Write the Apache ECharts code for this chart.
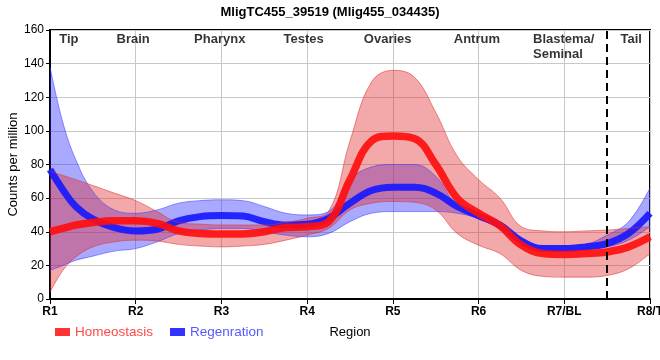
<!DOCTYPE html>
<html>
<head>
<meta charset="utf-8">
<script src="https://cdn.jsdelivr.net/npm/echarts@6/dist/echarts.min.js"></script>
<style>html,body{margin:0;padding:0;background:#fff;}#c{width:660px;height:360px;}</style>
</head>
<body>
<div id="c"></div>
<script>
var categories = ['R1','R2','R3','R4','R5','R6','R7/BL','R8/T'];
var yTicks = [0,20,40,60,80,100,120,140,160];
var xs = [1,1.15,1.3,1.5,1.75,2,2.25,2.5,2.75,3,3.25,3.5,3.75,4,4.25,4.5,4.75,5,5.25,5.5,5.75,6,6.25,6.5,6.75,7,7.25,7.5,7.75,8];
var homeMean  = [40,42,44,45.5,46.5,46.5,45,40.5,39,38.7,38.7,40,42.5,43,46,71,94,97,95.5,80,60,51,43.5,32,27,26.5,27,28,31,37];
var homeUpper = [76,73.5,71,67.5,63,58.5,52,45.5,44.5,44,44,44,45.5,48,52,94,129,136,132,111,85,71,60,43,40.5,40,40.5,41,42,43];
var homeLower = [4,17,25,31,34,35,34.5,32.5,31.5,31,31.5,32.5,35,38,42,53,57,58,57.5,53,39,32,27,17,13.5,13,13,14,18,27];
var regenMean  = [77,65,55,47.5,42.5,40.5,41.5,46.5,49,49.6,49.3,46,44,44.5,48,57,64.5,66.5,66.5,63,55,49.5,44,34.5,30,30,31,33,39,51];
var regenUpper = [138,105,83,64,53,51,53,57,58.5,59,58.5,55,51,50,52,71,78.5,80,80,73,55.5,51,45.5,36,31.5,31.5,32.5,38,46,66];
var regenLower = [17,20,23,25.5,28.5,30,34,39,41,42,42,40,38,37,39,46,51,52,52,52,51,48,42.5,33,28.5,28.5,29.5,31,35,43];
var regionNames = ['Tip','Brain','Pharynx','Testes','Ovaries','Antrum','Blastema/\nSeminal','Tail'];
var regionX = [1.22,1.97,2.98,3.96,4.94,5.98,6.635,7.78];
var regionY = 159;
var dividerX = 7.5;

var FONT = 'Liberation Sans, Arial, sans-serif';
// data rows are [y, x] so that stacking applies to the y dimension
function rows(a){ return xs.map(function(x,i){ return [a[i], x]; }); }
function diffRows(u,l){ return xs.map(function(x,i){ return [u[i]-l[i], x]; }); }

function band(name, stack, lower, upper, fill, edge){
  return [
    {name: name+'_lo', type:'line', stack: stack, data: rows(lower), encode:{x:1, y:0}, smooth:0.4,
     showSymbol:false, silent:true, lineStyle:{width:1,color:edge}, z:2},
    {name: name+'_hi', type:'line', stack: stack, data: diffRows(upper, lower), encode:{x:1, y:0}, smooth:0.4,
     showSymbol:false, silent:true, lineStyle:{width:1,color:edge}, areaStyle:{color:fill, opacity:1}, z:2}
  ];
}

var series = [];
series = series.concat(band('rb','regen', regenLower, regenUpper, 'rgba(40,40,255,0.4)', 'rgba(60,60,255,0.55)'));
series.push({name:'Regenration', type:'line', data: rows(regenMean), encode:{x:1, y:0}, smooth:0.4, showSymbol:false,
  lineStyle:{width:7,color:'rgba(25,25,255,0.92)'}, itemStyle:{color:'#3333ff'}, z:2});
series = series.concat(band('hb','home', homeLower, homeUpper, 'rgba(225,40,40,0.4)', 'rgba(220,50,50,0.55)'));
series.push({name:'Homeostasis', type:'line', data: rows(homeMean), encode:{x:1, y:0}, smooth:0.4, showSymbol:false,
  lineStyle:{width:7.5,color:'rgba(255,15,15,0.92)'}, itemStyle:{color:'#ff3333'}, z:2,
  markLine:{silent:true, symbol:'none', label:{show:false},
    lineStyle:{color:'#000', width:2, type:[8,5]}, data:[{xAxis: dividerX}]}});
series.push({name:'regions', type:'scatter', symbolSize:0, silent:true, z:5,
  data: regionNames.map(function(n,i){
    var left = n.indexOf('\n')>=0;
    return {value:[regionX[i], regionY], name:n, label:{align: left?'left':'center'}};
  }),
  label:{show:true, position:[0,0], verticalAlign:'top', formatter:function(p){return p.name;},
    fontFamily:FONT, fontWeight:'bold', fontSize:13, color:'#000', lineHeight:15}
});

var chart = echarts.init(document.getElementById('c'), null, {renderer:'canvas'});
chart.setOption({
  animation:false,
  backgroundColor:'#fff',
  textStyle:{fontFamily:FONT},
  title:{text:'MligTC455_39519 (Mlig455_034435)', left:'center', top:1,
    textStyle:{fontSize:13, fontWeight:'bold', color:'#000', fontFamily:FONT}},
  grid:{left:50, right:10, top:30, bottom:61, outerBoundsMode:'none', containLabel:false,
    show:true, borderColor:'#000', borderWidth:2, backgroundColor:'transparent'},
  legend:{left:50, top:320, itemWidth:15, itemHeight:8, itemGap:17, icon:'rect', selectedMode:false,
    data:[
      {name:'Homeostasis', itemStyle:{color:'#ff3333'}, textStyle:{color:'#ff4848'}},
      {name:'Regenration', itemStyle:{color:'#3333ff'}, textStyle:{color:'#5858ff'}}
    ],
    textStyle:{fontSize:13.5, fontFamily:FONT}},
  xAxis:{type:'value', min:1, max:8, interval:1,
    name:'Region', nameLocation:'middle', nameGap:27, nameMoveOverlap:false, nameTextStyle:{fontSize:13, color:'#000'},
    axisLine:{show:true, lineStyle:{color:'#000', width:2}},
    axisTick:{show:true, length:5, lineStyle:{color:'#000', width:1}},
    axisLabel:{fontSize:12, fontWeight:'bold', color:'#000', margin:7,
      formatter:function(v){ return categories[Math.round(v)-1] || ''; }},
    splitLine:{show:true, lineStyle:{color:'#c8c8c8', width:1}}},
  yAxis:{type:'value', min:yTicks[0], max:yTicks[yTicks.length-1], interval:yTicks[1]-yTicks[0],
    name:'Counts per million', nameLocation:'middle', nameGap:30, nameRotate:90, nameMoveOverlap:false,
    nameTextStyle:{fontSize:13, color:'#000'},
    axisLine:{show:true, lineStyle:{color:'#000', width:2}},
    axisTick:{show:true, length:4, lineStyle:{color:'#000', width:1}},
    axisLabel:{fontSize:12, color:'#000', margin:6},
    splitLine:{show:true, lineStyle:{color:'#c8c8c8', width:1}}},
  series: series
});
</script>
</body>
</html>
